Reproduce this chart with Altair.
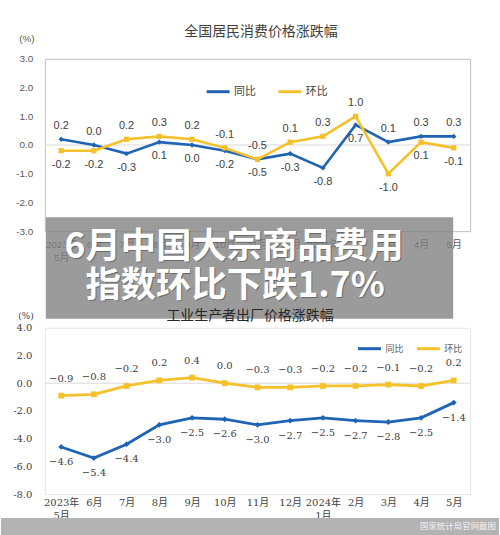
import altair as alt
import pandas as pd

# ---------------- data ----------------
months = ["2023年|5月", "6月", "7月", "8月", "9月", "10月", "11月", "12月",
          "2024年|1月", "2月", "3月", "4月", "5月"]
series_names = ["同比", "环比"]

cpi_yoy = [0.2, 0.0, -0.3, 0.1, 0.0, -0.2, -0.5, -0.3, -0.8, 0.7, 0.1, 0.3, 0.3]
cpi_mom = [-0.2, -0.2, 0.2, 0.3, 0.2, -0.1, -0.5, 0.1, 0.3, 1.0, -1.0, 0.1, -0.1]
ppi_yoy = [-4.6, -5.4, -4.4, -3.0, -2.5, -2.6, -3.0, -2.7, -2.5, -2.7, -2.8, -2.5, -1.4]
ppi_mom = [-0.9, -0.8, -0.2, 0.2, 0.4, 0.0, -0.3, -0.3, -0.2, -0.2, -0.1, -0.2, 0.2]

cpi_title = "全国居民消费价格涨跌幅"
ppi_title = "工业生产者出厂价格涨跌幅"
unit_text = "(%)"
banner_lines = ["6月中国大宗商品费用", "指数环比下跌1.7%"]
source_text = "国家统计局官网截图"

# label placement (style, kept apart from the values)
cpi_yoy_side = ["up", "up", "down", "down", "down", "down", "down", "down", "down", "down", "up", "up", "up"]
cpi_mom_side = ["down", "down", "up", "up", "up", "up", "up", "up", "up", "up", "down", "down", "down"]
ppi_yoy_side = ["down"] * 13
ppi_mom_side = ["up"] * 13

# ---------------- style ----------------
BLUE = "#1f63b4"
YELLOW = "#f5c12a"
SANS = "Liberation Sans, Noto Sans CJK SC, sans-serif"
CJK = "Noto Sans CJK SC"
SERIF = "DejaVu Serif, Noto Sans CJK SC, serif"
W = 427
H1 = 173
H2 = 167


def make_df(yoy, mom, yoy_side, mom_side, minus):
    rows = []
    for i, m in enumerate(months):
        for s, vals, sides in ((series_names[0], yoy, yoy_side), (series_names[1], mom, mom_side)):
            v = vals[i]
            rows.append({"month": m, "series": s, "value": v, "side": sides[i],
                         "label": f"{v:.1f}".replace("-", minus)})
    return pd.DataFrame(rows)


ylabel_expr = "(datum.value < 0 ? '-' : '') + format(abs(datum.value), '.1f')"
color_scale = alt.Scale(domain=series_names, range=[BLUE, YELLOW])


def one(text):
    return pd.DataFrame({"t": [text]})


def markers(base, x, y, size):
    col = alt.Color("series:N", scale=color_scale, legend=None)
    d = base.transform_filter(alt.datum.series == series_names[0]).mark_point(
        filled=True, size=size, opacity=1, shape="diamond").encode(x=x, y=y, color=col)
    s = base.transform_filter(alt.datum.series == series_names[1]).mark_point(
        filled=True, size=size, opacity=1, shape="square").encode(x=x, y=y, color=col)
    return d, s


# ---------------- CPI panel ----------------
cpi_df = make_df(cpi_yoy, cpi_mom, cpi_yoy_side, cpi_mom_side, "-")

x_cpi = alt.X("month:N", sort=months,
              axis=alt.Axis(title=None, labelAngle=0, labelExpr="split(datum.label, '|')",
                            labelOverlap=False, ticks=False, domain=False, labelFont=SANS,
                            labelFontSize=10, labelColor="#595959", labelPadding=8,
                            labelLineHeight=13, labelBaseline="top"))
y_cpi = alt.Y("value:Q", scale=alt.Scale(domain=[-3, 3], nice=False, zero=False),
              axis=alt.Axis(title=None, values=[-3, -2, -1, 0, 1, 2, 3], labelExpr=ylabel_expr,
                            grid=False, ticks=False, domain=False, labelFont=SANS,
                            labelFontSize=10, labelColor="#595959", labelPadding=12))
leg_cpi = alt.Legend(orient="none", legendX=161, legendY=20, direction="horizontal", title=None,
                     symbolType="stroke", symbolStrokeWidth=3, symbolSize=529,
                     labelFont=CJK, labelFontSize=11, labelColor="#404040",
                     columnPadding=16, labelOffset=3)

base_c = alt.Chart(cpi_df)
frame = alt.Chart(one("")).mark_rect(opacity=0).encode(
    x=alt.value(-44), x2=alt.value(456), y=alt.value(-57), y2=alt.value(478))
zero_c = alt.Chart(pd.DataFrame({"value": [0]})).mark_rule(color="#d9d9d9").encode(y=y_cpi)
lines_c = base_c.mark_line(strokeWidth=2.6).encode(
    x=x_cpi, y=y_cpi, color=alt.Color("series:N", scale=color_scale, legend=leg_cpi))
pd_c, ps_c = markers(base_c, x_cpi, y_cpi, 28)
lab_up_c = base_c.transform_filter(alt.datum.side == "up").mark_text(
    dy=-13, font=SANS, fontSize=11, color="#404040").encode(x=x_cpi, y=y_cpi, text="label:N")
lab_dn_c = base_c.transform_filter(alt.datum.side == "down").mark_text(
    dy=14, font=SANS, fontSize=11, color="#404040").encode(x=x_cpi, y=y_cpi, text="label:N")
title_c = alt.Chart(one(cpi_title)).mark_text(font=CJK, fontSize=14, color="#404040").encode(
    text="t:N", x=alt.value(217), y=alt.value(-27))
pct_c = alt.Chart(one(unit_text)).mark_text(font=SANS, fontSize=10, color="#595959").encode(
    text="t:N", x=alt.value(-18), y=alt.value(-20))

top = alt.layer(frame, zero_c, lines_c, pd_c, ps_c, lab_up_c, lab_dn_c, title_c, pct_c).properties(
    width=W, height=H1, view=alt.ViewBackground(stroke="#bfbfbf", strokeWidth=1))

# ---------------- PPI panel ----------------
ppi_df = make_df(ppi_yoy, ppi_mom, ppi_yoy_side, ppi_mom_side, "\u2212")

x_ppi = alt.X("month:N", sort=months,
              axis=alt.Axis(title=None, labelAngle=0, labelExpr="split(datum.label, '|')",
                            labelOverlap=False, ticks=False, domain=False, labelFont=SERIF,
                            labelFontSize=10, labelColor="#404040", labelPadding=3,
                            labelLineHeight=14, labelBaseline="top"))
y_ppi = alt.Y("value:Q", scale=alt.Scale(domain=[-8, 4], nice=False, zero=False),
              axis=alt.Axis(title=None, values=[-8, -6, -4, -2, 0, 2, 4], labelExpr=ylabel_expr,
                            grid=False, ticks=False, domain=False, labelFont=SERIF,
                            labelFontSize=10, labelColor="#404040", labelPadding=13))
leg_ppi = alt.Legend(orient="none", legendX=313, legendY=8, direction="horizontal", title=None,
                     symbolType="stroke", symbolStrokeWidth=3, symbolSize=529,
                     labelFont=CJK, labelFontSize=9, labelColor="#595959",
                     columnPadding=6, labelOffset=3)

base_p = alt.Chart(ppi_df)
zero_p = alt.Chart(pd.DataFrame({"value": [0]})).mark_rule(color="#d9d9d9").encode(y=y_ppi)
lines_p = base_p.mark_line(strokeWidth=2.8).encode(
    x=x_ppi, y=y_ppi, color=alt.Color("series:N", scale=color_scale, legend=leg_ppi))
pd_p, ps_p = markers(base_p, x_ppi, y_ppi, 34)
lab_up_p = base_p.transform_filter(alt.datum.side == "up").mark_text(
    dy=-17, font=SERIF, fontSize=10, color="#404040").encode(x=x_ppi, y=y_ppi, text="label:N")
lab_dn_p = base_p.transform_filter(alt.datum.side == "down").mark_text(
    dy=15, font=SERIF, fontSize=10, color="#404040").encode(x=x_ppi, y=y_ppi, text="label:N")

banner = alt.Chart(one("")).mark_rect(color="#7f7f7f", opacity=0.78).encode(
    x=alt.value(1), x2=alt.value(410), y=alt.value(-111), y2=alt.value(-9))


def banner_text(text, x, y):
    shadow = alt.Chart(one(text)).mark_text(
        font=CJK, fontSize=35.5, fontWeight="bold", color="#333333", opacity=0.45,
        dx=1, dy=1).encode(text="t:N", x=alt.value(x), y=alt.value(y))
    front = alt.Chart(one(text)).mark_text(
        font=CJK, fontSize=35.5, fontWeight="bold", color="white").encode(
        text="t:N", x=alt.value(x), y=alt.value(y))
    return shadow, front


b1s, b1 = banner_text(banner_lines[0], 190, -81)
b2s, b2 = banner_text(banner_lines[1], 191, -42)
title_p = alt.Chart(one(ppi_title)).mark_text(font=CJK, fontSize=14, color="#262626").encode(
    text="t:N", x=alt.value(206), y=alt.value(-12))
pct_p = alt.Chart(one(unit_text)).mark_text(font=SERIF, fontSize=9, color="#404040").encode(
    text="t:N", x=alt.value(-19), y=alt.value(-12))
foot = alt.Chart(one("")).mark_rect(color="#b3b3b3").encode(
    x=alt.value(-44), x2=alt.value(456), y=alt.value(191), y2=alt.value(208))
foot_t = alt.Chart(one(source_text)).mark_text(
    font=CJK, fontSize=8.5, color="#f4f4f4", align="right").encode(
    text="t:N", x=alt.value(453), y=alt.value(199))

bottom = alt.layer(zero_p, lines_p, pd_p, ps_p, lab_up_p, lab_dn_p, banner, b1s, b1, b2s, b2,
                   title_p, pct_p, foot, foot_t).properties(
    width=W, height=H2, view=alt.ViewBackground(stroke="#e6e6e6", strokeWidth=1))

chart = alt.vconcat(top, bottom, spacing=97, bounds="flush").resolve_scale(
    color="independent").properties(padding=0, background="white")

chart.save("out.html", embed_options={"renderer": "svg", "actions": False})
